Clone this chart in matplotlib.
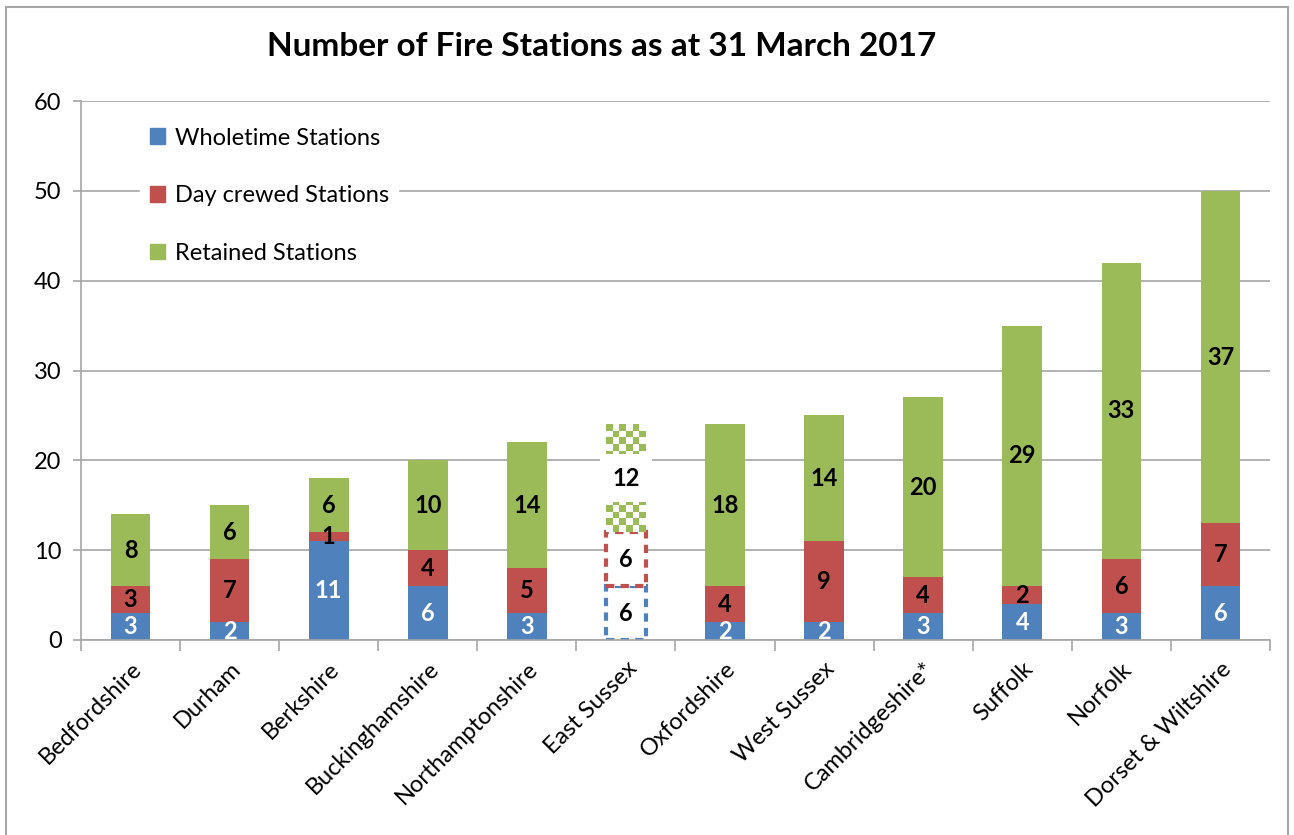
import numpy as np
import matplotlib
matplotlib.use('Agg')
import matplotlib.pyplot as plt
from matplotlib.patches import Rectangle
from matplotlib.ticker import FixedLocator

plt.rcParams['font.family'] = ['Lato', 'DejaVu Sans']

#数据
areas = ['Bedfordshire', 'Durham', 'Berkshire', 'Buckinghamshire', 'Northamptonshire',
         'East Sussex', 'Oxfordshire', 'West Sussex', 'Cambridgeshire*', 'Suffolk',
         'Norfolk', 'Dorset & Wiltshire']
wholetime = [3, 2, 11, 6, 3, 6, 2, 2, 3, 4, 3, 6]
day_crewed = [3, 7, 1, 4, 5, 6, 4, 9, 4, 2, 6, 7]
retained = [8, 6, 6, 10, 14, 12, 18, 14, 20, 29, 33, 37]
series_names = ['Wholetime Stations', 'Day crewed Stations', 'Retained Stations']
colors = ['#4F81BD', '#C0504D', '#9BBB59']
special = 'East Sussex'  # 虚线/棋盘格样式的那一列

fig = plt.figure(figsize=(12.94, 8.35), dpi=100)
ax = fig.add_axes([81/1294, 1-640/835, 1189/1294, 539/835])

x = np.arange(len(areas))
w = 0.4
series = [np.array(wholetime), np.array(day_crewed), np.array(retained)]
bottom = np.zeros(len(areas))
for k, vals in enumerate(series):
    for i in range(len(areas)):
        if areas[i] == special:
            if k < 2:
                ax.bar(x[i], vals[i], w, bottom=bottom[i], color='white', edgecolor=colors[k],
                       linestyle=(0, (2, 1.5)), linewidth=3, zorder=2)
            else:
                # 棋盘格
                ncol = 6
                nrow = int(round(vals[i] * 9 / (w * 99 / ncol)))
                board = (np.add.outer(np.arange(nrow), np.arange(ncol)) % 2)
                img = np.ones((nrow, ncol, 3))
                rgb = matplotlib.colors.to_rgb(colors[k])
                img[board == 0] = rgb
                ax.imshow(img, extent=(x[i]-w/2, x[i]+w/2, bottom[i], bottom[i]+vals[i]),
                          aspect='auto', interpolation='nearest', zorder=2)
        else:
            ax.bar(x[i], vals[i], w, bottom=bottom[i], color=colors[k], zorder=2)
        # 数据标签
        tc = 'white' if (k == 0 and areas[i] != special) else 'black'
        bb = dict(facecolor='white', edgecolor='none', pad=9) if (areas[i] == special and k == 2) else None
        ax.text(x[i], bottom[i] + vals[i]/2, str(vals[i]), ha='center', va='center',
                fontsize=17, fontweight='bold', color=tc, bbox=bb, zorder=4)
    bottom = bottom + vals

ax.set_xlim(-0.5, len(areas)-0.5)
ax.set_ylim(0, 60)
ax.set_yticks(range(0, 61, 10))
ax.yaxis.grid(True, color='#a6a6a6', linewidth=1.2, zorder=0)
ax.set_axisbelow(True)
for s in ['top', 'right']:
    ax.spines[s].set_visible(False)
for s in ['left', 'bottom']:
    ax.spines[s].set_color('#a6a6a6')
    ax.spines[s].set_linewidth(1.2)
ax.tick_params(axis='y', length=6, color='#a6a6a6', width=1.2, labelsize=17, pad=8)
ax.set_xticks(x)
ax.set_xticklabels(areas, rotation=45, ha='right', rotation_mode='anchor', fontsize=17)
ax.tick_params(axis='x', length=0, pad=13)
ax.xaxis.set_minor_locator(FixedLocator(np.arange(-0.5, len(areas), 1)))
ax.tick_params(axis='x', which='minor', length=8, color='#a6a6a6', width=1.2)

# 图例
handles = [Rectangle((0, 0), 1, 1, color=c) for c in colors]
leg = ax.legend(handles, series_names, loc='upper left', bbox_to_anchor=(0.04, 0.99),
                fontsize=17, frameon=True, framealpha=1, edgecolor='white', fancybox=False,
                handlelength=0.65, handleheight=0.65, handletextpad=0.4,
                labelspacing=1.55, borderpad=0.4)
leg.set_zorder(5)

fig.text(0.465, 1-47/835, 'Number of Fire Stations as at 31 March 2017', ha='center', va='center',
         fontsize=24, fontweight='bold')

# 外边框
fig.patches.append(Rectangle((6/1294, -0.01), 1282/1294, 1-7/835+0.01, transform=fig.transFigure,
                             fill=False, edgecolor='#a6a6a6', linewidth=1.5))

fig.savefig('out.png', dpi=100)
